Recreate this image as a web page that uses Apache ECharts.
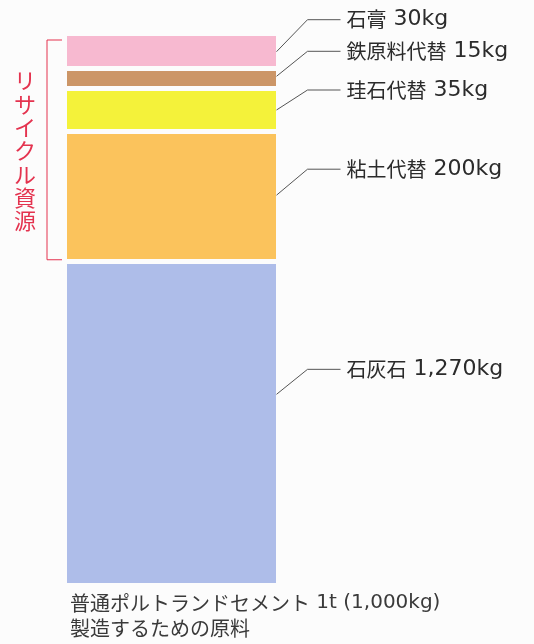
<!DOCTYPE html>
<html>
<head>
<meta charset="utf-8">
<script src="https://cdn.jsdelivr.net/npm/echarts@6/dist/echarts.min.js"></script>
<style>
  html, body { margin: 0; padding: 0; background: #fcfcfc; }
  #chart { width: 534px; height: 644px; }
</style>
</head>
<body>
<div id="chart"></div>
<script>
// ---- data (bottom to top of the stacked column) ----
const materials = ['石灰石', '粘土代替', '珪石代替', '鉄原料代替', '石膏'];
const amountsKg = [1270, 200, 35, 15, 30];
const amountLabels = ['1,270kg', '200kg', '35kg', '15kg', '30kg'];
// segment sizes as drawn in the figure (schematic, not to scale with kg)
const drawnSizes = [324, 130, 43, 20, 35];
const isRecycled = [false, true, true, true, true];
const groupLabel = 'リサイクル資源';
const captionLines = ['普通ポルトランドセメント', '1t (1,000kg)', '製造するための原料'];

// ---- styling ----
const colors = ['#aebde9', '#fbc35c', '#f4f23a', '#cc9667', '#f7b9d0'];
const anchorFromTop = [0.41, 0.49, 0.5, 0.39, 0.52];
const leaderRise = [25, 26, 20, 25, 32];
const GAP = 5;
const CJK = '"Noto Sans CJK JP", "Noto Sans CJK SC", sans-serif';
const LAT = '"DejaVu Sans", "Noto Sans CJK JP", sans-serif';

const total = drawnSizes.reduce((a, b) => a + b, 0);
const starts = [];
drawnSizes.reduce((acc, v, i) => { starts[i] = acc; return acc + v; }, 0);
const recStart = starts[isRecycled.indexOf(true)];

const barSeries = materials.map((m, i) => ({
  name: m,
  type: 'bar',
  stack: 'raw',
  barWidth: '100%',
  data: [drawnSizes[i]],
  itemStyle: { color: colors[i], borderColor: '#fcfcfc', borderWidth: GAP / 2 },
  emphasis: { disabled: true },
  z: 2
}));

const leaderSeries = {
  type: 'custom',
  coordinateSystem: 'cartesian2d',
  clip: false,
  z: 5,
  encode: { x: 0, y: 1 },
  data: materials.map((m, i) => [0, starts[i], drawnSizes[i], i]),
  renderItem: function (params, api) {
    const i = api.value(3);
    const s = api.value(1), h = api.value(2);
    const pt = api.coord([api.value(0), s + h * (1 - anchorFromTop[i])]);
    const bw = api.size([1, 0])[0];
    const x0 = pt[0] + bw / 2 - GAP / 2 + 0.5;
    const y0 = pt[1];
    const ex = x0 + 31, ey = y0 - leaderRise[i];
    const hx = ex + 33;
    return {
      type: 'group',
      children: [
        {
          type: 'polyline',
          shape: { points: [[x0, y0], [ex, ey], [hx, ey]] },
          style: { stroke: '#555', lineWidth: 1, fill: null }
        },
        {
          type: 'text',
          style: {
            x: hx + 6, y: ey,
            text: '{j|' + materials[i] + '} {n|' + amountLabels[i] + '}',
            align: 'left', verticalAlign: 'middle',
            fontFamily: LAT, fontSize: 22, fill: '#2b2b2b',
            rich: {
              j: { fontFamily: CJK, fontSize: 20, fill: '#2b2b2b' },
              n: { fontFamily: LAT, fontSize: 22, fill: '#2b2b2b' }
            }
          }
        }
      ]
    };
  }
};

const bracketSeries = {
  type: 'custom',
  coordinateSystem: 'cartesian2d',
  clip: false,
  z: 5,
  encode: { x: 0, y: 1 },
  data: [[0, recStart, total]],
  renderItem: function (params, api) {
    const bot = api.coord([api.value(0), api.value(1)]);
    const top = api.coord([api.value(0), api.value(2)]);
    const bw = api.size([1, 0])[0];
    const barLeft = bot[0] - bw / 2 + GAP / 2;
    const bx = barLeft - 20, tx = barLeft - 5;
    const yT = top[1] + 6.5, yB = bot[1] - 1.75;
    return {
      type: 'group',
      children: [
        {
          type: 'polyline',
          shape: { points: [[tx, yT], [bx, yT], [bx, yB], [tx, yB]] },
          style: { stroke: '#e4334f', lineWidth: 1, fill: null }
        },
        {
          type: 'text',
          style: {
            x: bx - 22, y: (yT + yB) / 2 + 1,
            text: groupLabel.split('').join('\n'),
            align: 'center', verticalAlign: 'middle',
            fontFamily: CJK, fontSize: 22, lineHeight: 23.3, fill: '#e4334f'
          }
        }
      ]
    };
  }
};

const chart = echarts.init(document.getElementById('chart'), null, { renderer: 'canvas' });
chart.setOption({
  animation: false,
  backgroundColor: '#fcfcfc',
  grid: { left: 64.5, top: 33.5, width: 214, height: total },
  xAxis: { type: 'category', data: ['原料'], show: false },
  yAxis: { type: 'value', min: 0, max: total, show: false },
  series: barSeries.concat([leaderSeries, bracketSeries]),
  graphic: [{
    type: 'text',
    left: 70,
    top: 590.5,
    style: {
      text: '{c|' + captionLines[0] + '} {n|' + captionLines[1] + '}\n{c|' + captionLines[2] + '}',
      fontFamily: LAT, fontSize: 20, lineHeight: 25, fill: '#3a3a3a',
      rich: {
        c: { fontFamily: CJK, fontSize: 20, lineHeight: 25, fill: '#3a3a3a' },
        n: { fontFamily: LAT, fontSize: 20, lineHeight: 25, fill: '#3a3a3a' }
      }
    }
  }]
});
</script>
</body>
</html>
